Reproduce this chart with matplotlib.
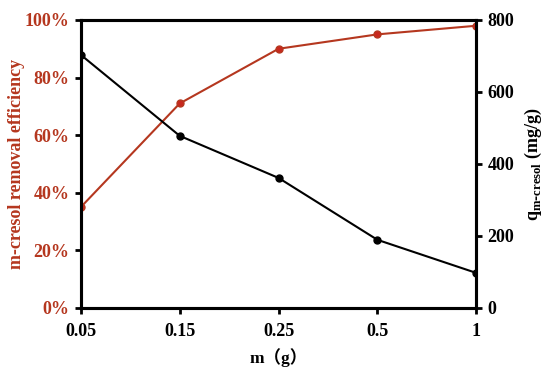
import numpy as np
import matplotlib.pyplot as plt

plt.rcParams['font.family'] = ['Liberation Serif', 'DejaVu Serif']
plt.rcParams['font.weight'] = 'bold'

masses = ['0.05', '0.15', '0.25', '0.5', '1']
removal = [35, 71, 90, 95, 98]        # %
q_cresol = [703, 478, 361, 189, 97]   # mg/g

red = '#B5371F'
x = np.arange(len(masses))

fig, ax = plt.subplots(figsize=(5.5, 3.7), dpi=100)
fig.subplots_adjust(left=0.147, right=0.866, top=0.946, bottom=0.168)

ax.plot(x, removal, color=red, linewidth=1.5, marker='o', markersize=5,
        markerfacecolor='#C8281E', markeredgecolor=red, zorder=3)
ax.set_ylim(0, 100)
ax.set_xlim(0, 4)
ax.set_yticks(np.arange(0, 101, 20))
ax.set_yticklabels([f'{v}%' for v in range(0, 101, 20)], color=red, fontsize=13, fontweight='bold')
ax.set_xticks(x)
ax.set_xticklabels(masses, fontsize=13, fontweight='bold')
ax.set_ylabel('m-cresol removal efficiency', color=red, fontsize=13, fontweight='bold', labelpad=0)
ax.set_xlabel('m\uff08g\uff09', fontsize=12.5, fontweight='bold', labelpad=6,
              family=['Liberation Serif', 'Noto Sans CJK SC'])

ax2 = ax.twinx()
ax2.plot(x, q_cresol, color='black', linewidth=1.5, marker='o', markersize=5, zorder=3)
ax2.set_ylim(0, 800)
ax2.set_yticks(np.arange(0, 801, 200))
ax2.set_yticklabels([str(v) for v in range(0, 801, 200)], fontsize=13, fontweight='bold')
ax2.set_ylabel(r'q$_{\mathregular{m\text{-}cresol}}$ (mg/g)', fontsize=13, fontweight='bold', labelpad=6)

for a in (ax, ax2):
    for s in a.spines.values():
        s.set_linewidth(2.2)
    a.tick_params(direction='out', length=4, width=2, pad=4)
ax.tick_params(axis='x', pad=7)

plt.savefig('out.png')
